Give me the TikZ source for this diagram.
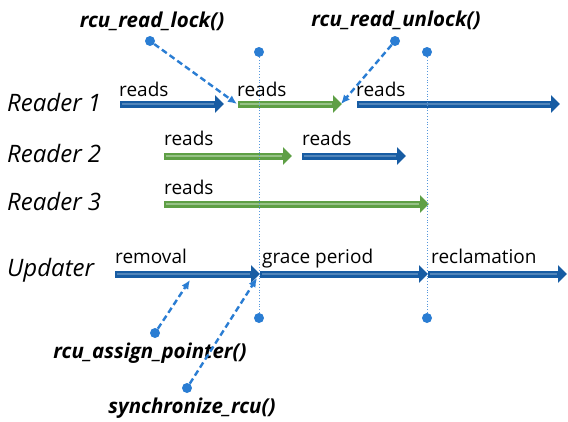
\documentclass[tikz,border=0pt]{standalone}
\usepackage{fontspec}
\setmainfont{Open Sans}
\usepackage{tikz}
\usetikzlibrary{arrows.meta}
\definecolor{rcublue}{HTML}{175CA3}
\definecolor{rcugreen}{HTML}{5E9F45}
\definecolor{rculight}{HTML}{2A7DD3}

\begin{document}
\begin{tikzpicture}[x=1pt,y=-1pt,
    stripe/.style={postaction={draw=#1, line width=1.6pt, -, shorten >=10pt, shorten <=1.5pt}},
    bluearrow/.style={rcublue, line width=7pt, -{Triangle[length=9pt,width=17pt]}, stripe=rcublue!75!white},
    greenarrow/.style={rcugreen, line width=7pt, -{Triangle[length=9pt,width=17pt]}, stripe=rcugreen!65!white},
    callarrow/.style={rculight, dash pattern=on 6pt off 3.5pt, line width=2.4pt, -{Latex[length=9pt,width=8pt]}},
    guide/.style={rculight!80, dotted, line width=0.8pt},
    pin/.style={circle, fill=rculight, inner sep=0pt, minimum size=10pt},
    who/.style={font=\fontsize{24}{27}\selectfont\itshape, anchor=west, inner sep=0pt},
    phase/.style={font=\fontsize{19}{22}\selectfont, anchor=base west, inner sep=0pt},
    call/.style={font=\fontsize{20.5}{24}\selectfont\bfseries\itshape, inner sep=0pt}]
    \useasboundingbox (0,0) rectangle (568,421);
    % row labels
    \node[who] (reader1) at (7,102) {Reader 1};
    \node[who] (reader2) at (7,153) {Reader 2};
    \node[who] (reader3) at (7,201) {Reader 3};
    \node[who] (updater) at (7,270) {Updater};
    % arrow end points
    \coordinate (r1a) at (120,104); \coordinate (r1b) at (224,104);
    \coordinate (r1c) at (238,104); \coordinate (r1d) at (342,104);
    \coordinate (r1e) at (357,104); \coordinate (r1f) at (560,104);
    \coordinate (r2a) at (164,156); \coordinate (r2b) at (292,156);
    \coordinate (r2c) at (302,156); \coordinate (r2d) at (406,156);
    \coordinate (r3a) at (164,204); \coordinate (r3b) at (429,204);
    \coordinate (ua) at (115,274); \coordinate (ub) at (260,274);
    \coordinate (uc) at (428,274); \coordinate (ud) at (567,274);
    % reader 1
    \draw[bluearrow] (r1a) -- (r1b);
    \draw[greenarrow] (r1c) -- (r1d);
    \draw[bluearrow] (r1e) -- (r1f);
    \node[phase] (read1a) at (119,96) {reads};
    \node[phase] (read1b) at (237,96) {reads};
    \node[phase] (read1c) at (356,96) {reads};
    % reader 2
    \draw[greenarrow] (r2a) -- (r2b);
    \draw[bluearrow] (r2c) -- (r2d);
    \node[phase] (read2a) at (164,145) {reads};
    \node[phase] (read2b) at (302,145) {reads};
    % reader 3
    \draw[greenarrow] (r3a) -- (r3b);
    \node[phase] (read3a) at (164,194) {reads};
    % updater
    \draw[bluearrow] (ua) -- (ub);
    \draw[bluearrow] (ub) -- (uc);
    \draw[bluearrow] (uc) -- (ud);
    \node[phase] (removal) at (115,263) {removal};
    \node[phase] (grace) at (262,263) {grace period};
    \node[phase] (reclaim) at (431,263) {reclamation};
    % grace period boundaries
    \node[pin] (gtop) at (259,52) {};
    \node[pin] (gbot) at (259,318) {};
    \node[pin] (etop) at (427,52) {};
    \node[pin] (ebot) at (427,318) {};
    \draw[guide] (gtop) -- (gbot);
    \draw[guide] (etop) -- (ebot);
    % API calls
    \node[call] (lock) at (152,21) {rcu\_read\_lock()};
    \node[call] (unlock) at (396,20) {rcu\_read\_unlock()};
    \node[call] (assign) at (150,353) {rcu\_assign\_pointer()};
    \node[call] (sync) at (192,408) {synchronize\_rcu()};
    \node[pin] (lockpin) at (150,41) {};
    \node[pin] (unlockpin) at (395,41) {};
    \node[pin] (assignpin) at (155,333) {};
    \node[pin] (syncpin) at (187,388) {};
    \coordinate (locktip) at (237,104);
    \coordinate (unlocktip) at (341,104);
    \coordinate (assigntip) at (190,280);
    \coordinate (synctip) at (257,278);
    \draw[callarrow] (lockpin) -- (locktip);
    \draw[callarrow] (unlockpin) -- (unlocktip);
    \draw[callarrow] (assignpin) -- (assigntip);
    \draw[callarrow] (syncpin) -- (synctip);
\end{tikzpicture}
\end{document}
